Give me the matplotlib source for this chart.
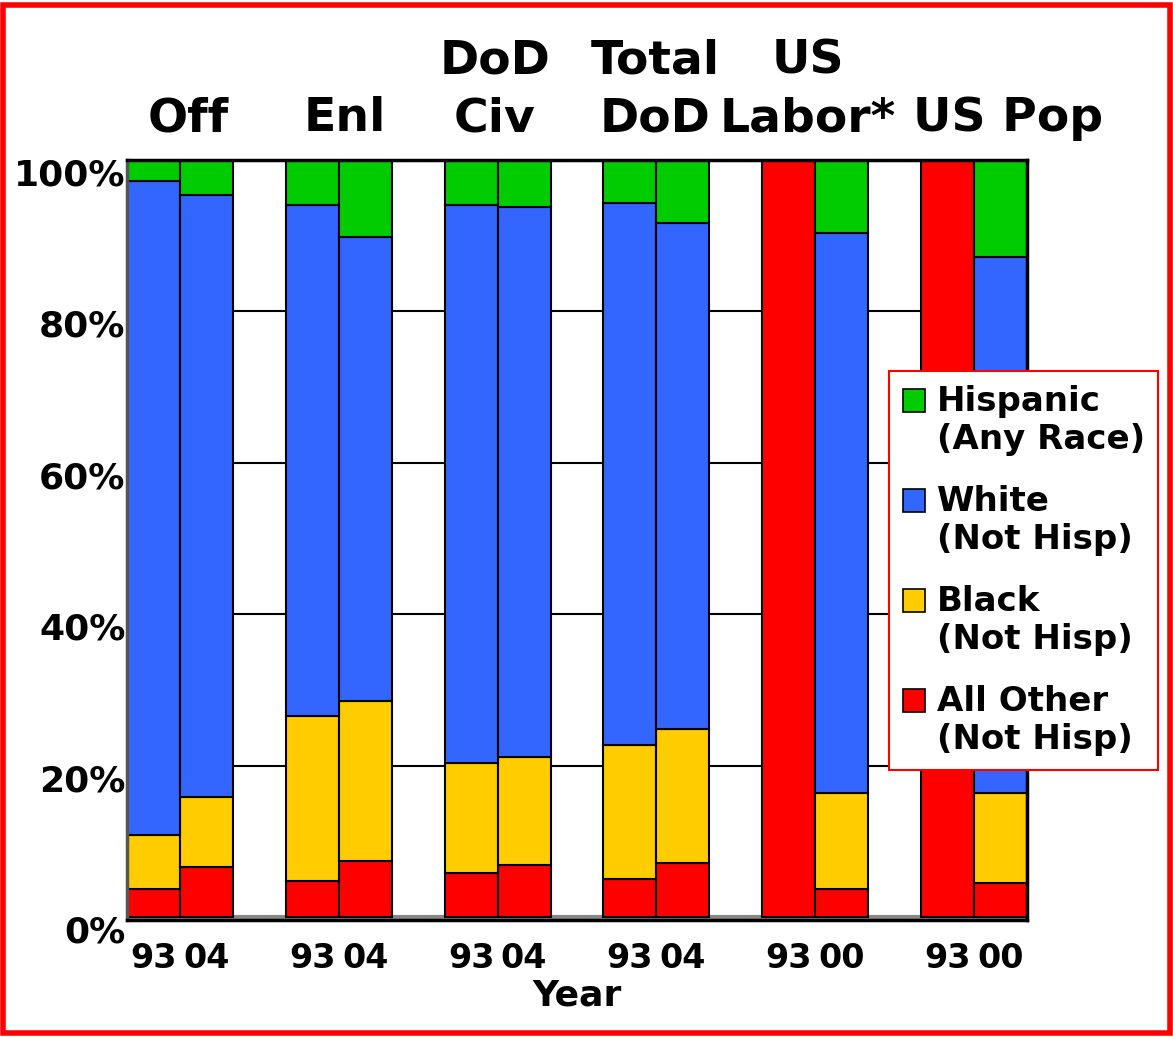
import matplotlib
matplotlib.use('Agg')
import matplotlib.pyplot as plt
import matplotlib.transforms as mtransforms
from matplotlib.patches import Patch, Rectangle

# data (percent of group), stacked bottom -> top
title_top = ['', '', 'DoD', 'Total', 'US', '']
title_bottom = ['Off', 'Enl', 'Civ', 'DoD', 'Labor*', 'US Pop']
years = ['93', '04', '93', '04', '93', '04', '93', '04', '93', '00', '93', '00']

other = [3.7, 6.6, 4.7, 7.4, 5.8, 6.9, 5.0, 7.1, 100, 3.7, 100, 4.5]
black = [7.1, 9.2, 21.9, 21.1, 14.5, 14.2, 17.7, 17.7, 0, 12.7, 0, 11.9]
white = [86.4, 79.6, 67.5, 61.3, 73.8, 72.7, 71.6, 66.9, 0, 74.0, 0, 70.8]
hisp = [2.8, 4.6, 5.9, 10.2, 5.9, 6.2, 5.7, 8.3, 0, 9.6, 0, 12.8]

series = [other, black, white, hisp]
colors = ['#ff0000', '#ffcc00', '#3366ff', '#00cc00']
labels = ['All Other\n(Not Hisp)', 'Black\n(Not Hisp)', 'White\n(Not Hisp)', 'Hispanic\n(Any Race)']

plt.rcParams['font.family'] = 'DejaVu Sans'
plt.rcParams['font.weight'] = 'bold'

fig = plt.figure(figsize=(11.73, 10.38), dpi=100)
ax = fig.add_axes([127/1173, 1-920/1038, 900/1173, 760/1038])

# bar positions: 2 bars per group, one empty slot between groups
xpos = [3*g + j for g in range(6) for j in range(2)]

bottom = [0]*len(xpos)
for vals, c in zip(series, colors):
    ax.bar(xpos, vals, width=1.0, bottom=bottom, color=c, edgecolor='black',
           linewidth=1.5, zorder=3)
    bottom = [b + v for b, v in zip(bottom, vals)]

ax.set_xlim(-0.5, 16.5)
ax.set_ylim(-0.4, 100)

# grid only shows in the gaps
for yv in [20, 40, 60, 80]:
    ax.axhline(yv, color='black', linewidth=1.5, zorder=1)
ax.axhline(0, color='#888888', linewidth=3, zorder=1)

ax.set_yticks([0, 20, 40, 60, 80, 100])
ax.set_yticklabels(['0%', '20%', '40%', '60%', '80%', '100%'],
                   fontsize=26, fontweight='bold')
ax.tick_params(axis='y', length=0, pad=1)
offset = mtransforms.ScaledTranslation(0, -12/100, fig.dpi_scale_trans)
for lab in ax.get_yticklabels():
    lab.set_transform(lab.get_transform() + offset)

ax.set_xticks(xpos)
ax.set_xticklabels(years, fontsize=24, fontweight='bold')
ax.tick_params(axis='x', length=0, pad=16)
ax.set_xlabel('Year', fontsize=26, fontweight='bold', labelpad=2)

for side in ['top', 'bottom', 'right']:
    ax.spines[side].set_color('black')
    ax.spines[side].set_linewidth(2.5)
ax.spines['left'].set_color('#555555')
ax.spines['left'].set_linewidth(2.5)
for s in ax.spines.values():
    s.set_zorder(5)

# group titles above the plot
title_x = [0.65, 3.62, 6.45, 9.47, 12.36, 16.14]
trans = mtransforms.blended_transform_factory(ax.transData, fig.transFigure)
for x, top, bot in zip(title_x, title_top, title_bottom):
    ax.text(x, 1-131/1038, bot, transform=trans, ha='center', va='baseline',
            fontsize=34, fontweight='bold')
    if top:
        ax.text(x, 1-73/1038, top, transform=trans, ha='center', va='baseline',
                fontsize=34, fontweight='bold')

# legend (top series first)
handles = [Patch(facecolor=c, edgecolor='black', linewidth=1.2) for c in colors][::-1]
leg = fig.legend(handles, labels[::-1], loc='upper left',
                 bbox_to_anchor=(889/1173, 1-371/1038), bbox_transform=fig.transFigure,
                 frameon=True, fancybox=False, framealpha=1,
                 prop=dict(weight='bold', size=24.5),
                 handlelength=0.65, handleheight=0.65, handletextpad=0.35,
                 labelspacing=0.85, borderpad=0.4, borderaxespad=0)
leg.get_frame().set_edgecolor('red')
leg.get_frame().set_linewidth(1.5)
for t in leg.get_texts():
    t.set_linespacing(1.2)
for h in leg.legend_handles:
    h.set_y(h.get_y() + 15)

# red frame around the figure
fig.patches.append(Rectangle((3/1173, 5/1038), 1167/1173, 1028/1038,
                             transform=fig.transFigure, fill=False,
                             edgecolor='red', linewidth=4))

fig.savefig('out.png', dpi=100)
